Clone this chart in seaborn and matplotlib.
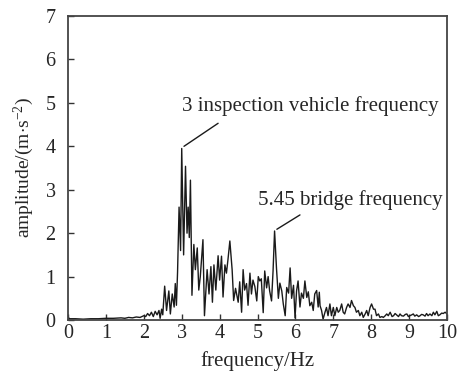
import matplotlib
matplotlib.use("Agg")
import matplotlib.pyplot as plt
import pandas as pd
import seaborn as sns

# Acceleration amplitude spectrum (frequency in Hz, amplitude in m/s^2)
freq = [
    0.00, 0.03, 0.20, 0.40, 0.60, 0.80, 1.00, 1.20, 1.40, 1.50, 1.60, 1.70, 1.80, 1.90, 2.00,
    2.05, 2.10, 2.15, 2.20, 2.25, 2.30, 2.35, 2.40, 2.43, 2.47, 2.50, 2.55, 2.60, 2.66, 2.70,
    2.75, 2.80, 2.83, 2.86, 2.89, 2.93, 2.97, 3.00, 3.05, 3.10, 3.14, 3.17, 3.20, 3.23, 3.27,
    3.32, 3.36, 3.41, 3.45, 3.49, 3.56, 3.60, 3.67, 3.72, 3.77, 3.81, 3.85, 3.90, 3.96, 4.00,
    4.05, 4.09, 4.14, 4.18, 4.22, 4.27, 4.33, 4.37, 4.42, 4.49, 4.53, 4.58, 4.62, 4.66, 4.71,
    4.75, 4.80, 4.84, 4.88, 4.93, 4.98, 5.02, 5.06, 5.10, 5.15, 5.19, 5.24, 5.28, 5.32, 5.37,
    5.41, 5.45, 5.50, 5.55, 5.59, 5.64, 5.68, 5.73, 5.77, 5.82, 5.86, 5.90, 5.95, 5.99, 6.03,
    6.07, 6.12, 6.16, 6.21, 6.25, 6.30, 6.34, 6.38, 6.43, 6.47, 6.51, 6.56, 6.60, 6.63, 6.65,
    6.69, 6.73, 6.78, 6.82, 6.86, 6.91, 6.95, 7.00, 7.04, 7.09, 7.13, 7.17, 7.22, 7.26, 7.30,
    7.35, 7.39, 7.44, 7.48, 7.53, 7.57, 7.61, 7.66, 7.70, 7.75, 7.79, 7.84, 7.88, 7.92, 7.97,
    8.01, 8.06, 8.10, 8.14, 8.19, 8.23, 8.28, 8.32, 8.37, 8.41, 8.45, 8.50, 8.55, 8.59, 8.63,
    8.67, 8.72, 8.76, 8.80, 8.85, 8.90, 8.94, 8.98, 9.02, 9.07, 9.11, 9.15, 9.20, 9.25, 9.29,
    9.33, 9.37, 9.42, 9.46, 9.50, 9.55, 9.60, 9.64, 9.68, 9.73, 9.77, 9.81, 9.86, 9.90, 9.95,
    10.00,
]
amplitude = [
    0.08, 0.03, 0.03, 0.02, 0.03, 0.03, 0.04, 0.04, 0.05, 0.04, 0.06, 0.05, 0.07, 0.06, 0.10,
    0.08, 0.15, 0.10, 0.18, 0.08, 0.20, 0.12, 0.22, 0.04, 0.25, 0.12, 0.78, 0.22, 0.67, 0.14,
    0.60, 0.30, 0.84, 0.34, 1.10, 2.60, 1.60, 3.95, 1.50, 3.54, 2.00, 2.60, 1.90, 3.22, 0.57,
    1.74, 1.16, 1.66, 0.69, 1.00, 1.85, 0.10, 1.16, 0.60, 1.23, 0.41, 1.27, 0.69, 1.48, 0.92,
    1.47, 0.53, 1.27, 1.08, 1.39, 1.82, 1.16, 0.45, 0.73, 0.41, 0.88, 0.18, 1.16, 0.69, 0.84,
    0.34, 1.08, 0.60, 0.92, 0.77, 0.44, 1.00, 0.90, 0.95, 0.17, 1.13, 0.74, 1.00, 0.67, 0.44,
    1.13, 2.05, 1.20, 0.50, 0.85, 0.67, 0.37, 0.10, 0.75, 0.62, 1.20, 0.50, 0.80, 0.05, 0.67,
    0.90, 0.30, 0.62, 0.50, 0.90, 0.52, 0.65, 0.33, 0.41, 0.22, 0.60, 0.68, 0.30, 0.64, 0.33,
    0.22, 0.02, 0.18, 0.29, 0.10, 0.37, 0.10, 0.29, 0.10, 0.29, 0.18, 0.22, 0.37, 0.18, 0.14,
    0.29, 0.37, 0.29, 0.45, 0.33, 0.29, 0.18, 0.22, 0.10, 0.18, 0.06, 0.14, 0.22, 0.10, 0.29,
    0.37, 0.25, 0.25, 0.10, 0.14, 0.06, 0.08, 0.06, 0.10, 0.14, 0.10, 0.18, 0.08, 0.10, 0.15,
    0.12, 0.08, 0.14, 0.10, 0.09, 0.13, 0.14, 0.08, 0.10, 0.12, 0.14, 0.09, 0.12, 0.08, 0.10,
    0.13, 0.12, 0.09, 0.15, 0.10, 0.14, 0.10, 0.18, 0.12, 0.20, 0.10, 0.12, 0.16, 0.15, 0.18,
    0.14,
]

x_ticks = [0, 1, 2, 3, 4, 5, 6, 7, 8, 9, 10]
y_ticks = [0, 1, 2, 3, 4, 5, 6, 7]

# Labelled peaks: (frequency, amplitude, label)
peak_vehicle = (3.00, 3.95, "3 inspection vehicle frequency")
peak_bridge = (5.45, 2.05, "5.45 bridge frequency")

sns.set_style("ticks")
plt.rcParams["font.family"] = ["Liberation Serif", "DejaVu Serif"]
plt.rcParams["mathtext.fontset"] = "custom"
plt.rcParams["mathtext.rm"] = "Liberation Serif"
plt.rcParams["mathtext.it"] = "Liberation Serif:italic"

df = pd.DataFrame({"frequency": freq, "amplitude": amplitude})

fig = plt.figure(figsize=(4.64, 3.81), dpi=100)
ax = fig.add_axes([0.1466, 0.160, 0.8168, 0.798])

sns.lineplot(data=df, x="frequency", y="amplitude", ax=ax,
             color="#1a1a1a", linewidth=1.0, estimator=None, sort=False)

ax.set_xlim(0, 10)
ax.set_ylim(0, 7)
ax.set_xticks(x_ticks)
ax.set_yticks(y_ticks)
ax.tick_params(direction="in", length=4, width=1.0, color="#333333",
               labelsize=14.5, top=False, right=False)
ax.tick_params(axis="y", pad=9)
ax.tick_params(axis="x", pad=3)
for sp in ax.spines.values():
    sp.set_linewidth(1.3)
    sp.set_color("#444444")

ax.set_xlabel("frequency/Hz", fontsize=15, labelpad=6)
ax.set_ylabel(r"amplitude/(m$\cdot$s$^{-2}$)", fontsize=14, labelpad=7)

# Leader lines and labels for the two dominant peaks
ax.plot([3.06, 3.96], [4.00, 4.53], color="#1a1a1a", linewidth=1.0)
ax.text(3.0, 4.92, peak_vehicle[2], fontsize=15, ha="left", va="center")
ax.plot([5.51, 6.12], [2.09, 2.42], color="#1a1a1a", linewidth=1.0)
ax.text(5.02, 2.76, peak_bridge[2], fontsize=15, ha="left", va="center")

fig.savefig("out.png", dpi=100)
